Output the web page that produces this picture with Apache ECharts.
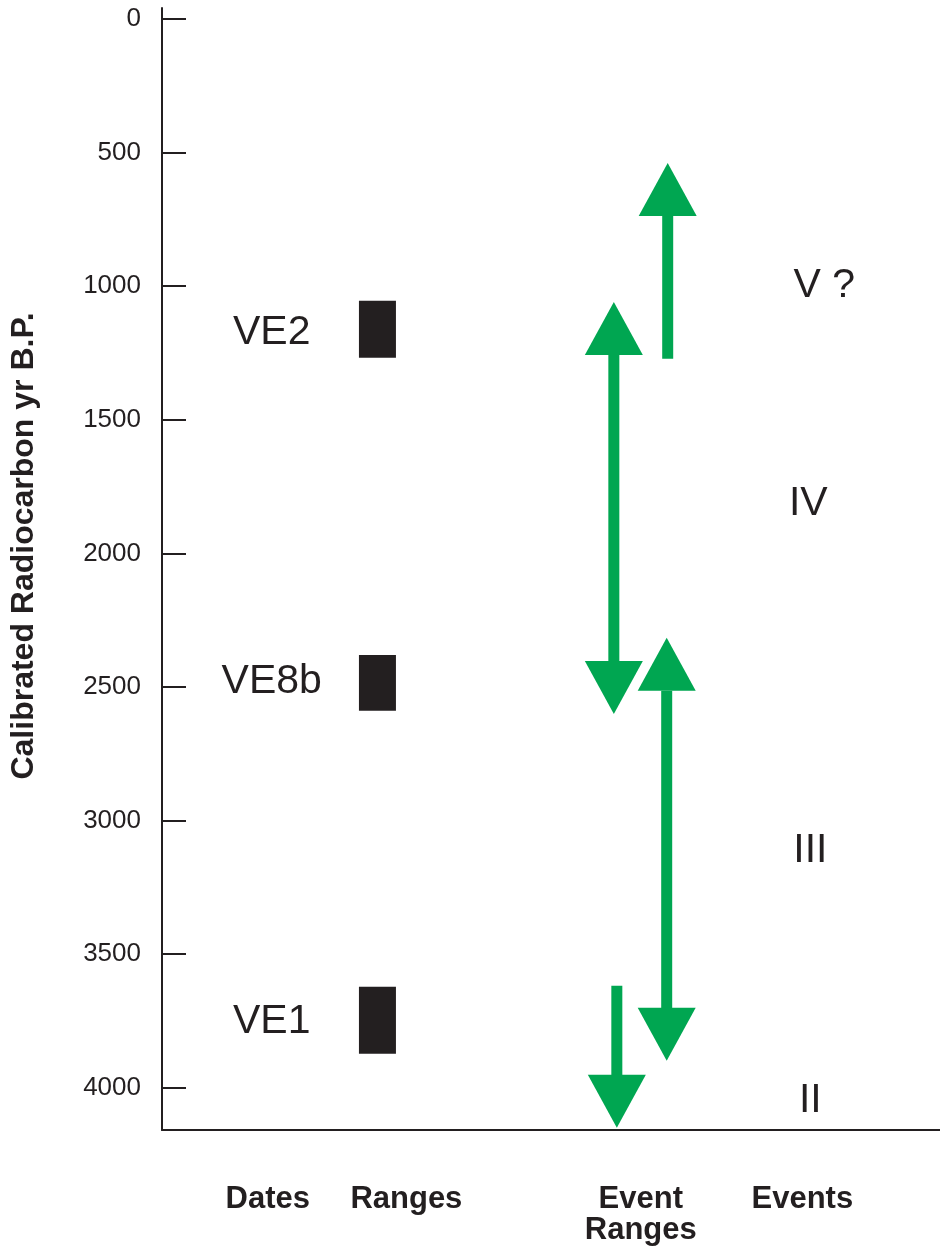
<!DOCTYPE html>
<html lang="en">
<head>
    <meta charset="UTF-8" />
    <title>Calibrated Radiocarbon yr B.P.</title>
    <script src="https://cdn.jsdelivr.net/npm/echarts@6/dist/echarts.min.js"></script>
    <style>
        html, body { margin: 0; padding: 0; background: #fff; }
        #main { width: 940px; height: 1247px; }
    </style>
</head>
<body>
    <div id="main"></div>
    <script>
        // y axis (years B.P.), drawn top-down
        const yearTicks = [0, 500, 1000, 1500, 2000, 2500, 3000, 3500, 4000];

        // column headings along the bottom and where they sit on the hidden x scale
        const columnNames = ['Dates', 'Ranges', 'Event\nRanges', 'Events'];
        const columnPos = [106, 245, 480, 642];

        // dated layers
        const dateLabels = ['VE2', 'VE8b', 'VE1'];
        const dateYears = [1174, 2480, 3752];
        const rangeStart = [1055, 2380, 3622];
        const rangeEnd = [1268, 2589, 3873];

        // green arrows (event ranges)
        const arrowCol = [453, 507, 506, 456];
        const arrowFrom = [1059, 1268, 2316, 3618];
        const arrowTo = [2601, 539, 3899, 4150];
        const arrowBoth = [1, 0, 1, 0];

        // events
        const eventLabels = ['V ?', 'IV', 'III', 'II'];
        const eventYears = [998, 1814, 3112, 4048];
        const eventCol = [664, 648, 650, 650];

        const dateCol = 110;
        const rangeCol = 216;

        var FONT = "'Liberation Sans', Arial, Helvetica, sans-serif";
        var INK = '#231f20';
        var GREEN = '#00a651';

        var chartDom = document.getElementById('main');
        var myChart = echarts.init(chartDom);

        function textItem(params, api) {
            var p = api.coord([api.value(0), api.value(1)]);
            return {
                type: 'text',
                x: p[0],
                y: p[1],
                style: {
                    text: api.value(2),
                    font: '41px ' + FONT,
                    fill: INK,
                    align: 'center',
                    verticalAlign: 'middle'
                }
            };
        }

        function rangeItem(params, api) {
            var a = api.coord([api.value(0), api.value(1)]);
            var b = api.coord([api.value(0), api.value(2)]);
            var w = 37;
            return {
                type: 'rect',
                shape: { x: a[0] - w / 2, y: Math.min(a[1], b[1]), width: w, height: Math.abs(b[1] - a[1]) },
                style: { fill: INK }
            };
        }

        function arrowItem(params, api) {
            var x = api.value(0);
            var both = api.value(3);
            var p0 = api.coord([x, api.value(1)]);
            var p1 = api.coord([x, api.value(2)]);
            var dir = p1[1] > p0[1] ? 1 : -1;
            var HL = 53, HW = 29, SW = 5.5;
            var s0 = both ? p0[1] + dir * HL : p0[1];
            var s1 = p1[1] - dir * HL;
            var kids = [
                {
                    type: 'rect',
                    shape: { x: p0[0] - SW, y: Math.min(s0, s1), width: SW * 2, height: Math.abs(s1 - s0) + 1 },
                    style: { fill: GREEN }
                },
                {
                    type: 'polygon',
                    shape: { points: [[p1[0], p1[1]], [p1[0] - HW, s1], [p1[0] + HW, s1]] },
                    style: { fill: GREEN }
                }
            ];
            if (both) {
                kids.push({
                    type: 'polygon',
                    shape: { points: [[p0[0], p0[1]], [p0[0] - HW, s0], [p0[0] + HW, s0]] },
                    style: { fill: GREEN }
                });
            }
            return { type: 'group', children: kids };
        }

        var option = {
            animation: false,
            grid: { left: 160, right: 0, top: 8, bottom: 117 },
            xAxis: {
                type: 'value',
                position: 'bottom',
                min: 0,
                max: 780,
                splitLine: { show: false },
                axisLine: { show: true, onZero: false, lineStyle: { color: INK, width: 2 } },
                axisTick: { show: false },
                axisLabel: {
                    customValues: columnPos,
                    formatter: function (v) {
                        return columnNames[columnPos.indexOf(v)];
                    },
                    margin: 54,
                    verticalAlign: 'top',
                    fontFamily: FONT,
                    fontWeight: 'bold',
                    fontSize: 31,
                    lineHeight: 31,
                    color: INK,
                    hideOverlap: false
                }
            },
            yAxis: {
                type: 'value',
                inverse: true,
                min: -41,
                max: 4158,
                splitLine: { show: false },
                axisLine: { show: true, onZero: false, lineStyle: { color: INK, width: 2 } },
                axisTick: {
                    show: true,
                    inside: true,
                    length: 24,
                    customValues: yearTicks,
                    lineStyle: { color: INK, width: 2 }
                },
                axisLabel: {
                    customValues: yearTicks,
                    formatter: function (v) { return String(v); },
                    margin: 21,
                    padding: [4, 0, 0, 0],
                    fontFamily: FONT,
                    fontSize: 26,
                    color: INK
                },
                name: 'Calibrated Radiocarbon yr B.P.',
                nameLocation: 'middle',
                nameGap: 122,
                nameTextStyle: {
                    fontFamily: FONT,
                    fontWeight: 'bold',
                    fontSize: 32,
                    color: INK,
                    padding: [0, 0, 0, 46]
                }
            },
            series: [
                {
                    type: 'custom',
                    renderItem: rangeItem,
                    data: rangeStart.map(function (s, i) { return [rangeCol, s, rangeEnd[i]]; })
                },
                {
                    type: 'custom',
                    renderItem: arrowItem,
                    data: arrowCol.map(function (c, i) { return [c, arrowFrom[i], arrowTo[i], arrowBoth[i]]; })
                },
                {
                    type: 'custom',
                    renderItem: textItem,
                    dimensions: ['x', 'y', { name: 'label', type: 'ordinal' }],
                    data: dateLabels.map(function (t, i) { return [dateCol, dateYears[i], t]; })
                },
                {
                    type: 'custom',
                    renderItem: textItem,
                    dimensions: ['x', 'y', { name: 'label', type: 'ordinal' }],
                    data: eventLabels.map(function (t, i) { return [eventCol[i], eventYears[i], t]; })
                }
            ]
        };

        myChart.setOption(option);
    </script>
</body>
</html>
